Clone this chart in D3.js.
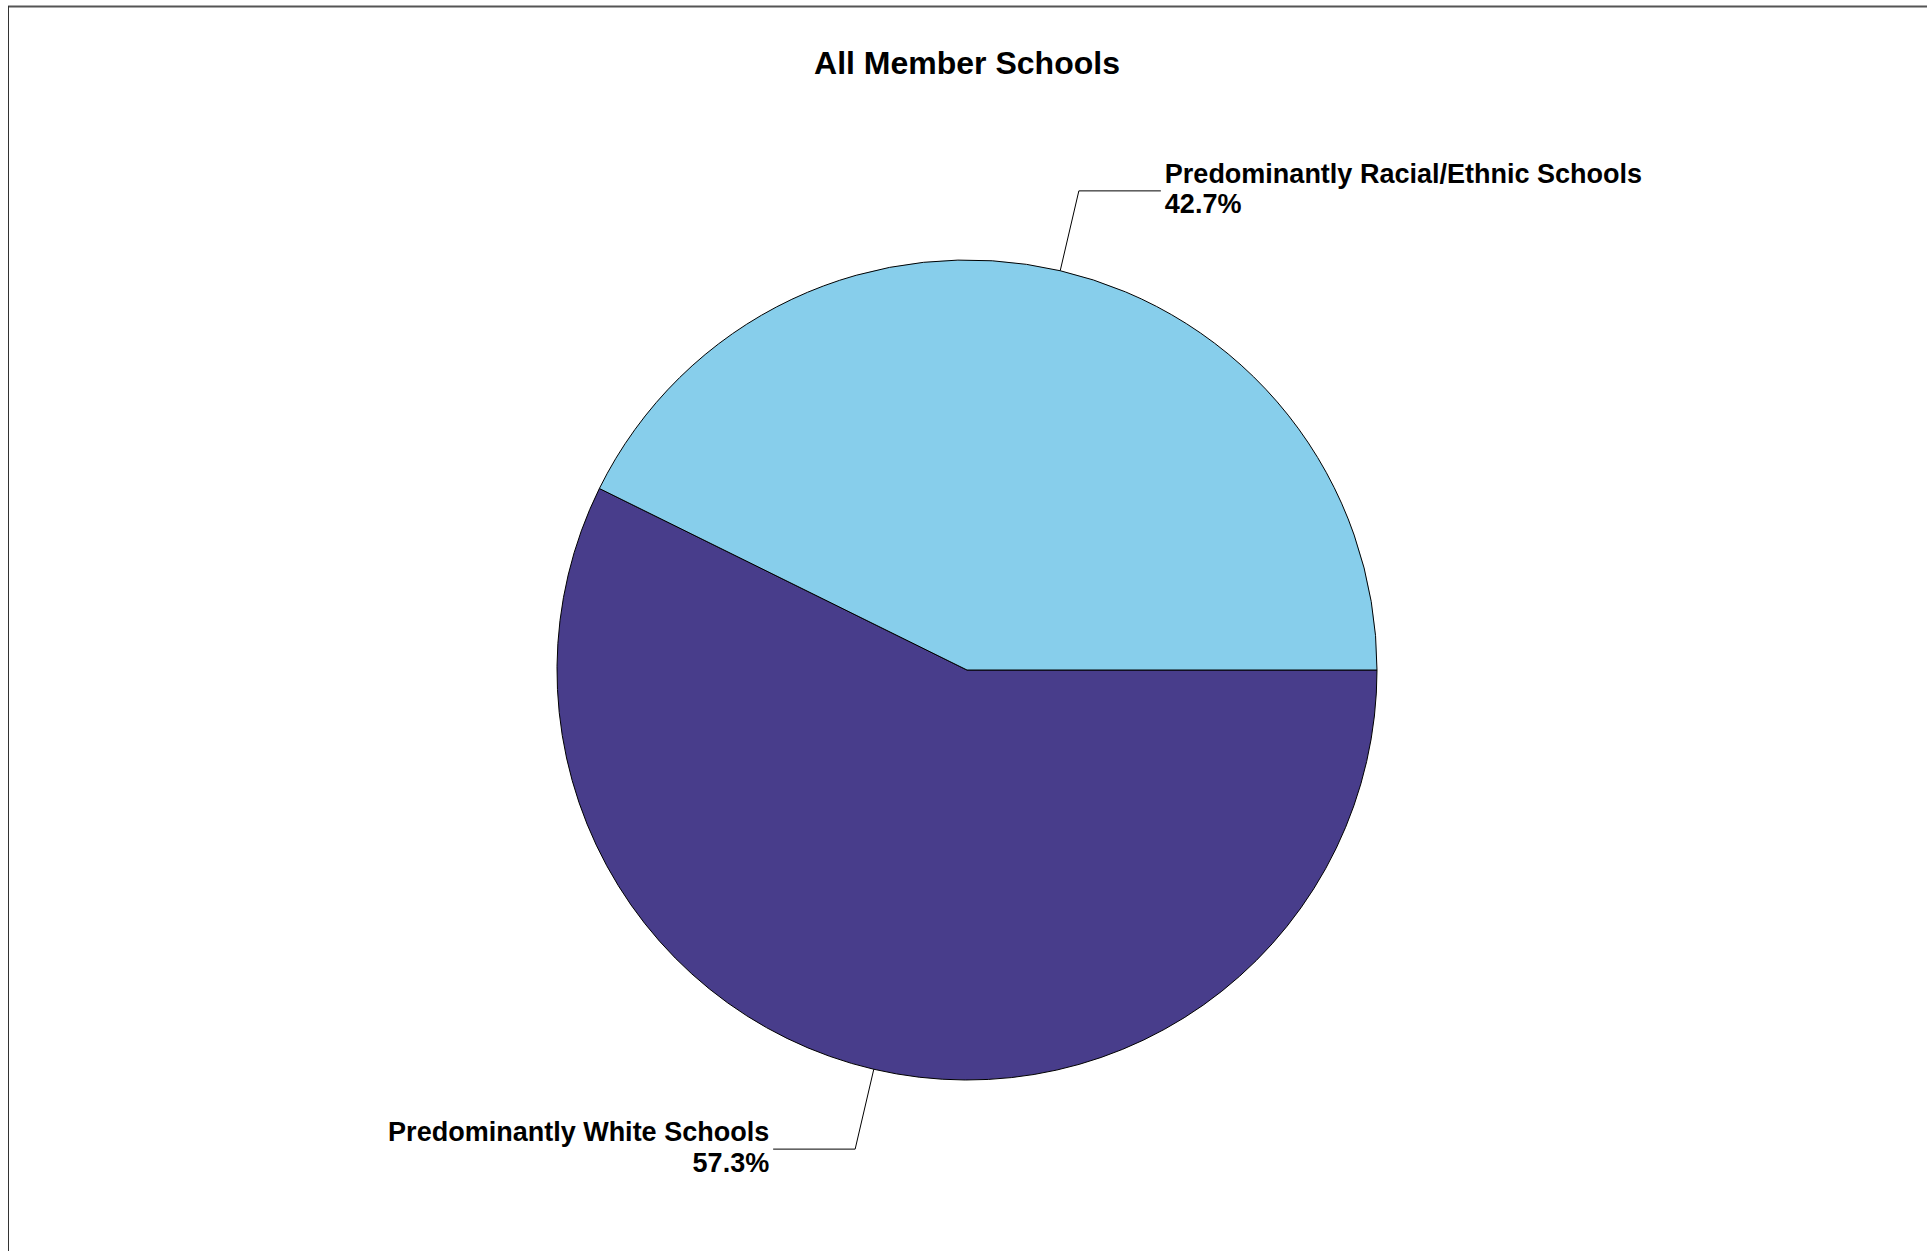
<!DOCTYPE html>
<html>
<head>
<meta charset="utf-8">
<script src="https://cdn.jsdelivr.net/npm/d3@7"></script>
<style>
  html, body { margin: 0; padding: 0; background: #fff; }
  svg { display: block; }
  text { font-family: "Liberation Sans", Arial, sans-serif; font-weight: bold; fill: #000; }
</style>
</head>
<body>
<svg id="chart" width="1927" height="1251"></svg>
<script>
const title = "All Member Schools";
const categories = ["Predominantly White Schools", "Predominantly Racial/Ethnic Schools"];
const values = [57.3, 42.7];
const colors = ["#483D8B", "#87CEEB"];

const W = 1927, H = 1251;
const cx = 967, cy = 670, R = 410;

const svg = d3.select("#chart");

// frame
svg.append("line").attr("x1", 8).attr("x2", W).attr("y1", 6.5).attr("y2", 6.5)
  .attr("stroke", "#555").attr("stroke-width", 2);
svg.append("line").attr("x1", 8.5).attr("x2", 8.5).attr("y1", 6).attr("y2", H)
  .attr("stroke", "#333").attr("stroke-width", 1);

svg.append("text").attr("x", cx).attr("y", 74).attr("text-anchor", "middle")
  .style("font-size", "32px").text(title);

const data = categories.map((c, i) => ({ cat: c, value: values[i], color: colors[i] }));
const pie = d3.pie().sort(null).value(d => d.value)
  .startAngle(Math.PI / 2).endAngle(Math.PI / 2 + 2 * Math.PI);
const arcs = pie(data);
const arc = d3.arc().innerRadius(0).outerRadius(R);

const g = svg.append("g").attr("transform", `translate(${cx},${cy})`);
g.selectAll("path.slice").data(arcs).enter().append("path")
  .attr("class", "slice")
  .attr("d", arc)
  .attr("fill", d => d.data.color)
  .attr("stroke", "#000").attr("stroke-width", 1);

arcs.forEach(a => {
  const mid = (a.startAngle + a.endAngle) / 2;
  const sx = Math.sin(mid), sy = -Math.cos(mid);
  const p0 = [sx * R, sy * R];
  const p1 = [sx * R * 1.2, sy * R * 1.2];
  const right = sx >= 0;
  const p2 = [p1[0] + (right ? 82 : -82), p1[1]];
  g.append("polyline")
    .attr("points", [p0, p1, p2].map(p => p.join(",")).join(" "))
    .attr("fill", "none").attr("stroke", "#000").attr("stroke-width", 1);
  const tx = p2[0] + (right ? 4 : -4);
  const t = g.append("text").attr("text-anchor", right ? "start" : "end")
    .style("font-size", "27px");
  t.append("tspan").attr("x", tx).attr("y", p1[1] - 8).text(a.data.cat);
  t.append("tspan").attr("x", tx).attr("y", p1[1] + 22.5).text(d3.format(".1f")(a.data.value) + "%");
});
</script>
</body>
</html>
